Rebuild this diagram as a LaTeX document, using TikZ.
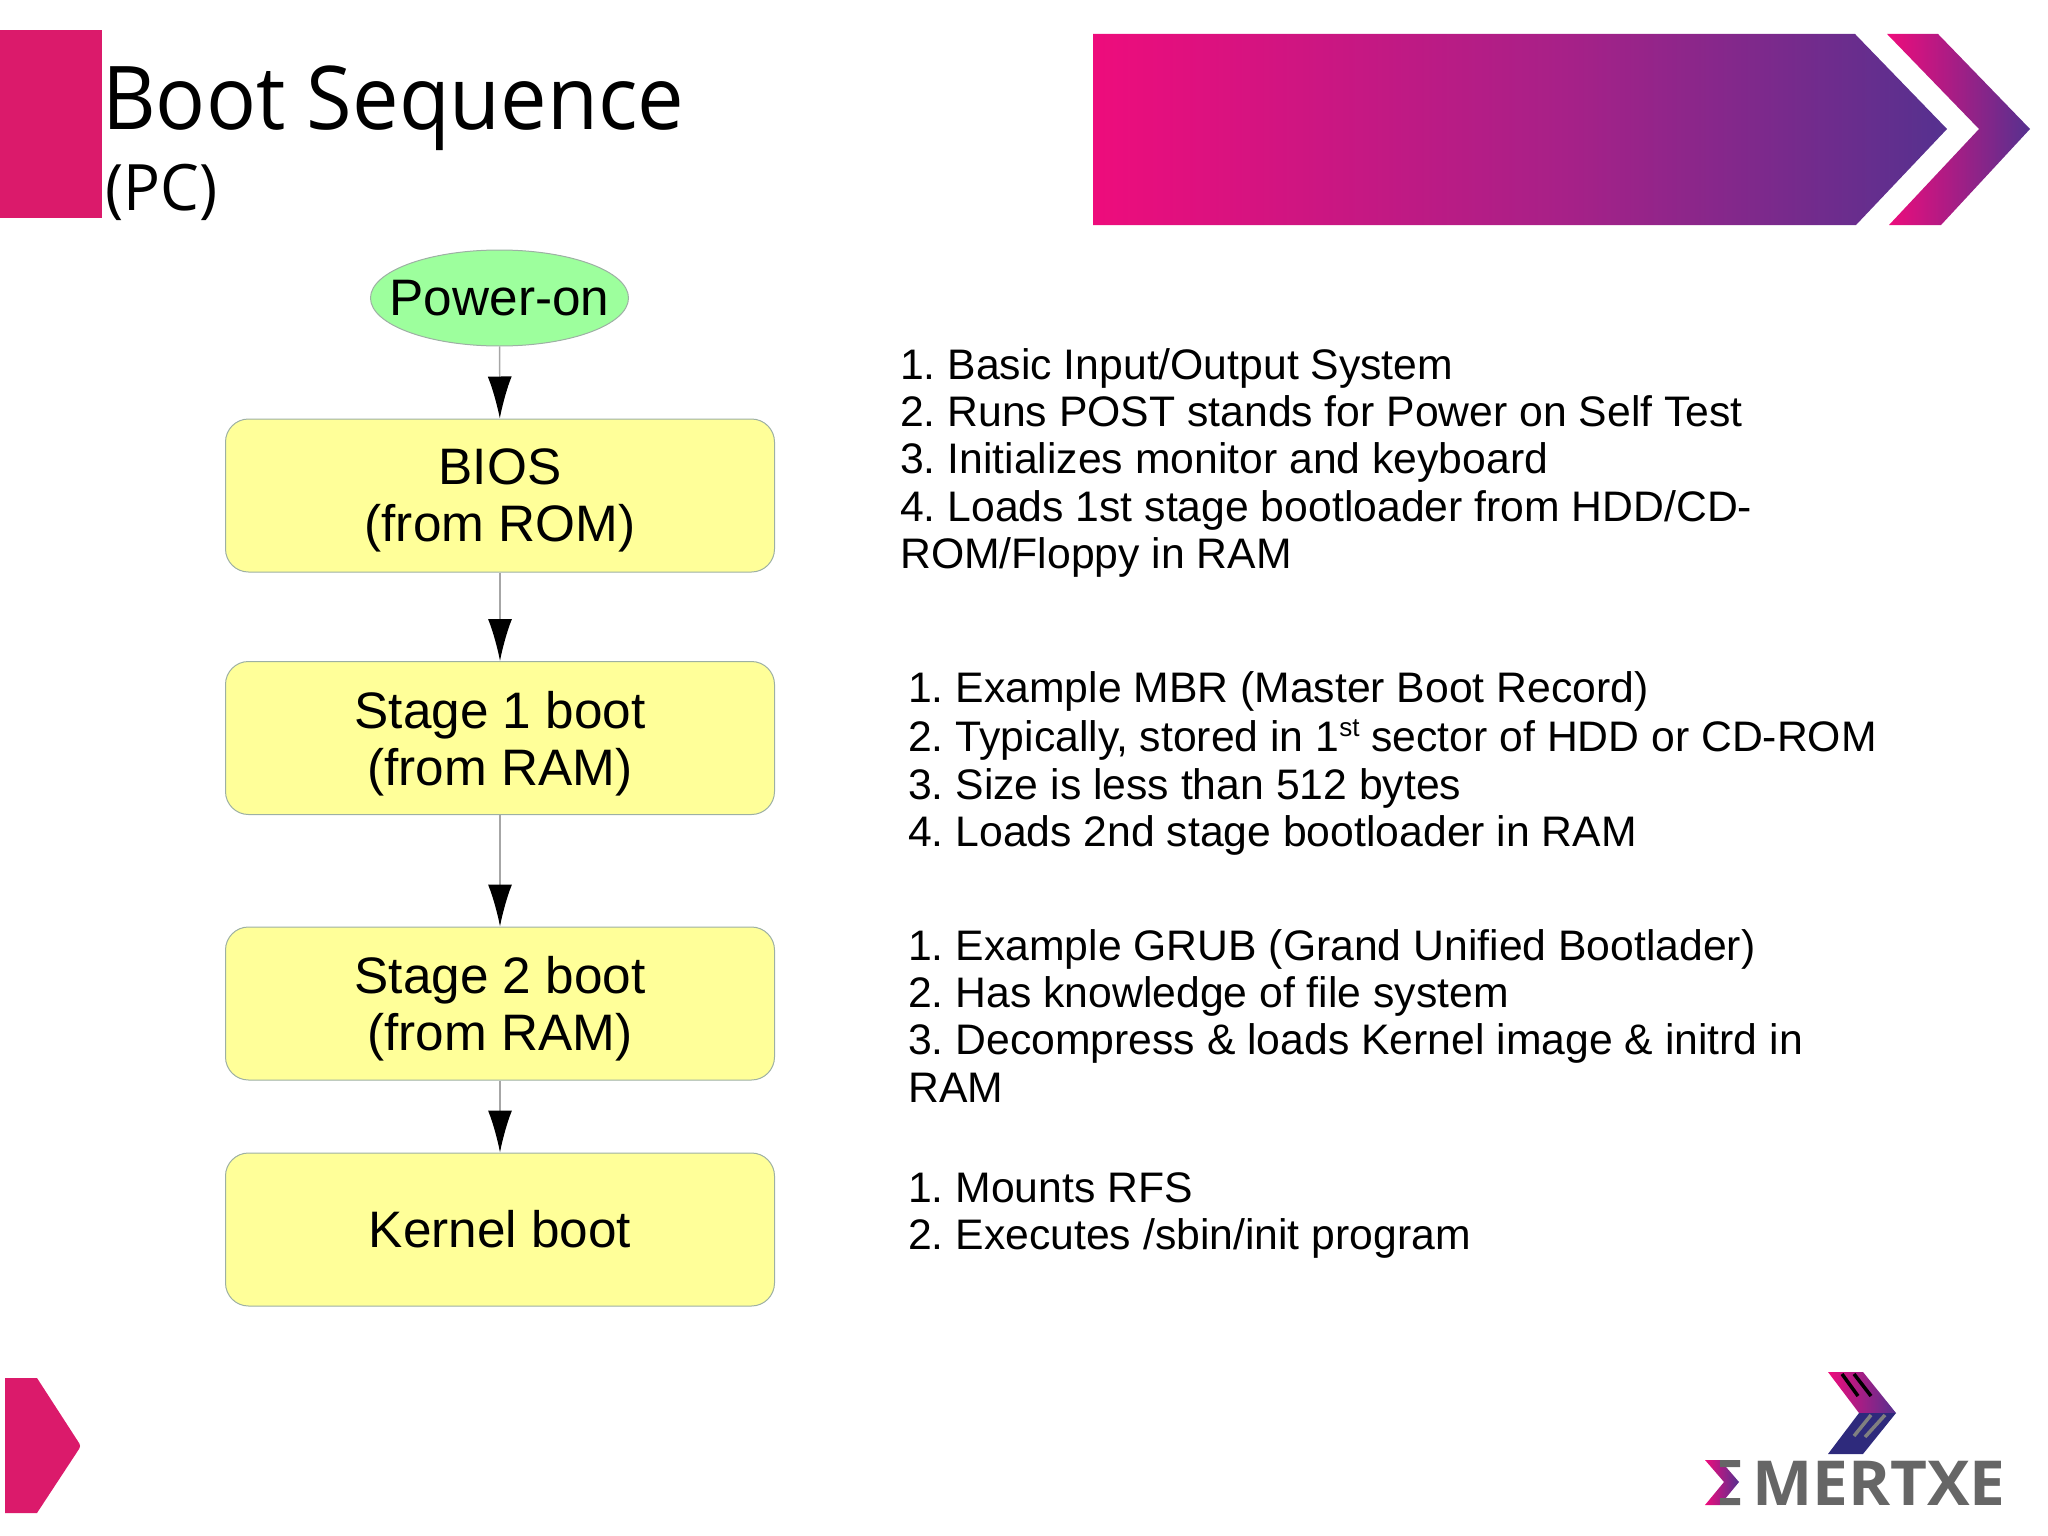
\documentclass[tikz,border=0pt]{standalone}
\usepackage{fontspec}
\setmainfont{Liberation Sans}
\newfontfamily\titlefont{Open Sans}
\usetikzlibrary{arrows.meta,shapes.geometric}

\definecolor{slidepink}{HTML}{DB1A6B}
\definecolor{logonavy}{HTML}{2E2A7C}
\definecolor{logogray}{HTML}{666666}
\definecolor{stageyellow}{HTML}{FFFF99}
\definecolor{startgreen}{HTML}{9DFF9D}
\definecolor{nodeedge}{HTML}{9DB0A4}
\definecolor{gradpink}{HTML}{EE0C7C}
\definecolor{gradmid}{HTML}{A62188}
\definecolor{gradblue}{HTML}{55318F}

\pgfdeclarehorizontalshading{bannershade}{100bp}{
  color(0bp)=(gradpink); color(25bp)=(gradpink); color(53bp)=(gradmid); color(75bp)=(gradblue); color(100bp)=(gradblue)}
\pgfdeclarehorizontalshading{chevronshade}{100bp}{
  color(0bp)=(gradpink); color(25bp)=(gradpink); color(75bp)=(gradblue); color(100bp)=(gradblue)}

\tikzset{
  stagebox/.style={draw=nodeedge, line width=1pt, fill=stageyellow, rounded corners=23pt, minimum width=549pt,
    minimum height=153pt, align=center, inner sep=0pt, font=\fontsize{51.3}{57}\selectfont},
  twoline/.style={stagebox, text depth=0pt},
  startoval/.style={ellipse, draw=nodeedge, line width=1pt, fill=startgreen, minimum width=258pt, minimum height=96pt,
    inner sep=0pt, font=\fontsize{51.3}{57}\selectfont},
  flowarrow/.style={draw=gray!70, line width=1.4pt, -{Latex[length=42pt,width=24pt,black]}},
  notes/.style={anchor=north west, align=left, inner sep=0pt, font=\frenchspacing\fontsize{42.7}{47.4}\selectfont},
}

\begin{document}
\begin{tikzpicture}[x=1pt, y=-1pt, line cap=butt, line join=miter]

  %% ════ slide furniture ════
  \fill[slidepink] (0,30) rectangle (102,218);
  \shade[shading=bannershade] (1093,34) -- (1855,34) -- (1947,129) -- (1856,225) -- (1093,225) -- cycle;
  \shade[shading=chevronshade] (1887,34) -- (1938,34) -- (2030,129) -- (1941,225) -- (1889,225) -- (1979,129) -- cycle;
  \fill[slidepink] (5,1378) -- (37,1378) [rounded corners=3pt] -- (81,1446) [sharp corners] -- (37,1513) -- (5,1513) -- cycle;

  %% ════ title ════
  \node[anchor=base west, inner sep=0pt, xscale=0.943, transform shape, font=\titlefont\fontsize{88}{90}\selectfont] (title) at (102,129.5) {Boot Sequence};
  \node[anchor=base west, inner sep=0pt, xscale=0.96, transform shape, font=\titlefont\fontsize{64}{66}\selectfont] (subtitle) at (105,210) {(PC)};

  %% ════ flow chart ════
  \node[startoval] (poweron) at (499.5,298) {\makebox[0pt][c]{Power-on}};
  \node[twoline] (bios) at (500,495.5) {BIOS\\(from ROM)};
  \node[twoline] (stageone) at (500,738) {Stage 1 boot\\(from RAM)};
  \node[twoline] (stagetwo) at (500,1003.5) {Stage 2 boot\\(from RAM)};
  \node[stagebox] (kernel) at (500,1229.5) {Kernel boot};

  \draw[flowarrow] (poweron) -- (bios);
  \draw[flowarrow] (bios) -- (stageone);
  \draw[flowarrow] (stageone) -- (stagetwo);
  \draw[flowarrow] (stagetwo) -- (kernel);

  %% ════ notes ════
  \node[notes] (biosnotes) at (900,348) {1. Basic Input/Output System\\2. Runs POST stands for Power on Self Test\\3. Initializes monitor and keyboard\\4. Loads 1st stage bootloader from HDD/CD-\\ROM/Floppy in RAM};
  \node[notes] (onenotes) at (908,671) {1. Example MBR (Master Boot Record)\\[1.5pt]2. Typically, stored in 1\raisebox{15pt}{\fontsize{26}{26}\selectfont st} sector of HDD or CD-ROM\\[1pt]3. Size is less than 512 bytes\\4. Loads 2nd stage bootloader in RAM};
  \node[notes] (twonotes) at (908,929) {1. Example GRUB (Grand Unified Bootlader)\\2. Has knowledge of file system\\3. Decompress \& loads Kernel image \& initrd in\\RAM};
  \node[notes] (kernelnotes) at (908,1172) {1. Mounts RFS\\2. Executes /sbin/init program};

  %% ════ logo ════
  \shade[shading=chevronshade] (1828,1372) -- (1863,1372) -- (1896,1413) -- (1859,1413) -- cycle;
  \fill[logonavy] (1859,1413) -- (1896,1413) -- (1863,1454) -- (1828,1454) -- cycle;
  \draw[black, line width=3.5pt] (1842,1374) -- (1858,1396) (1854,1374) -- (1871,1396);
  \draw[gray, line width=3.5pt] (1854,1436) -- (1871,1415) (1865,1437) -- (1885,1415);
  \shade[shading=chevronshade] (1705,1460) -- (1720,1460) -- (1739,1482) -- (1720,1505) -- (1705,1505) -- (1724,1482) -- cycle;
  \fill[logogray] (1720,1460) rectangle (1740,1467) (1720,1498) rectangle (1740,1505);
  \node[anchor=base west, inner sep=0pt, xscale=1.03, transform shape, text=logogray, font=\titlefont\bfseries\fontsize{62}{64}\selectfont] (logotext) at (1752,1505) {MERTXE};

  % fix the canvas
  \pgfresetboundingbox
  \path[use as bounding box] (0,0) rectangle (2048,1536);
\end{tikzpicture}
\end{document}
